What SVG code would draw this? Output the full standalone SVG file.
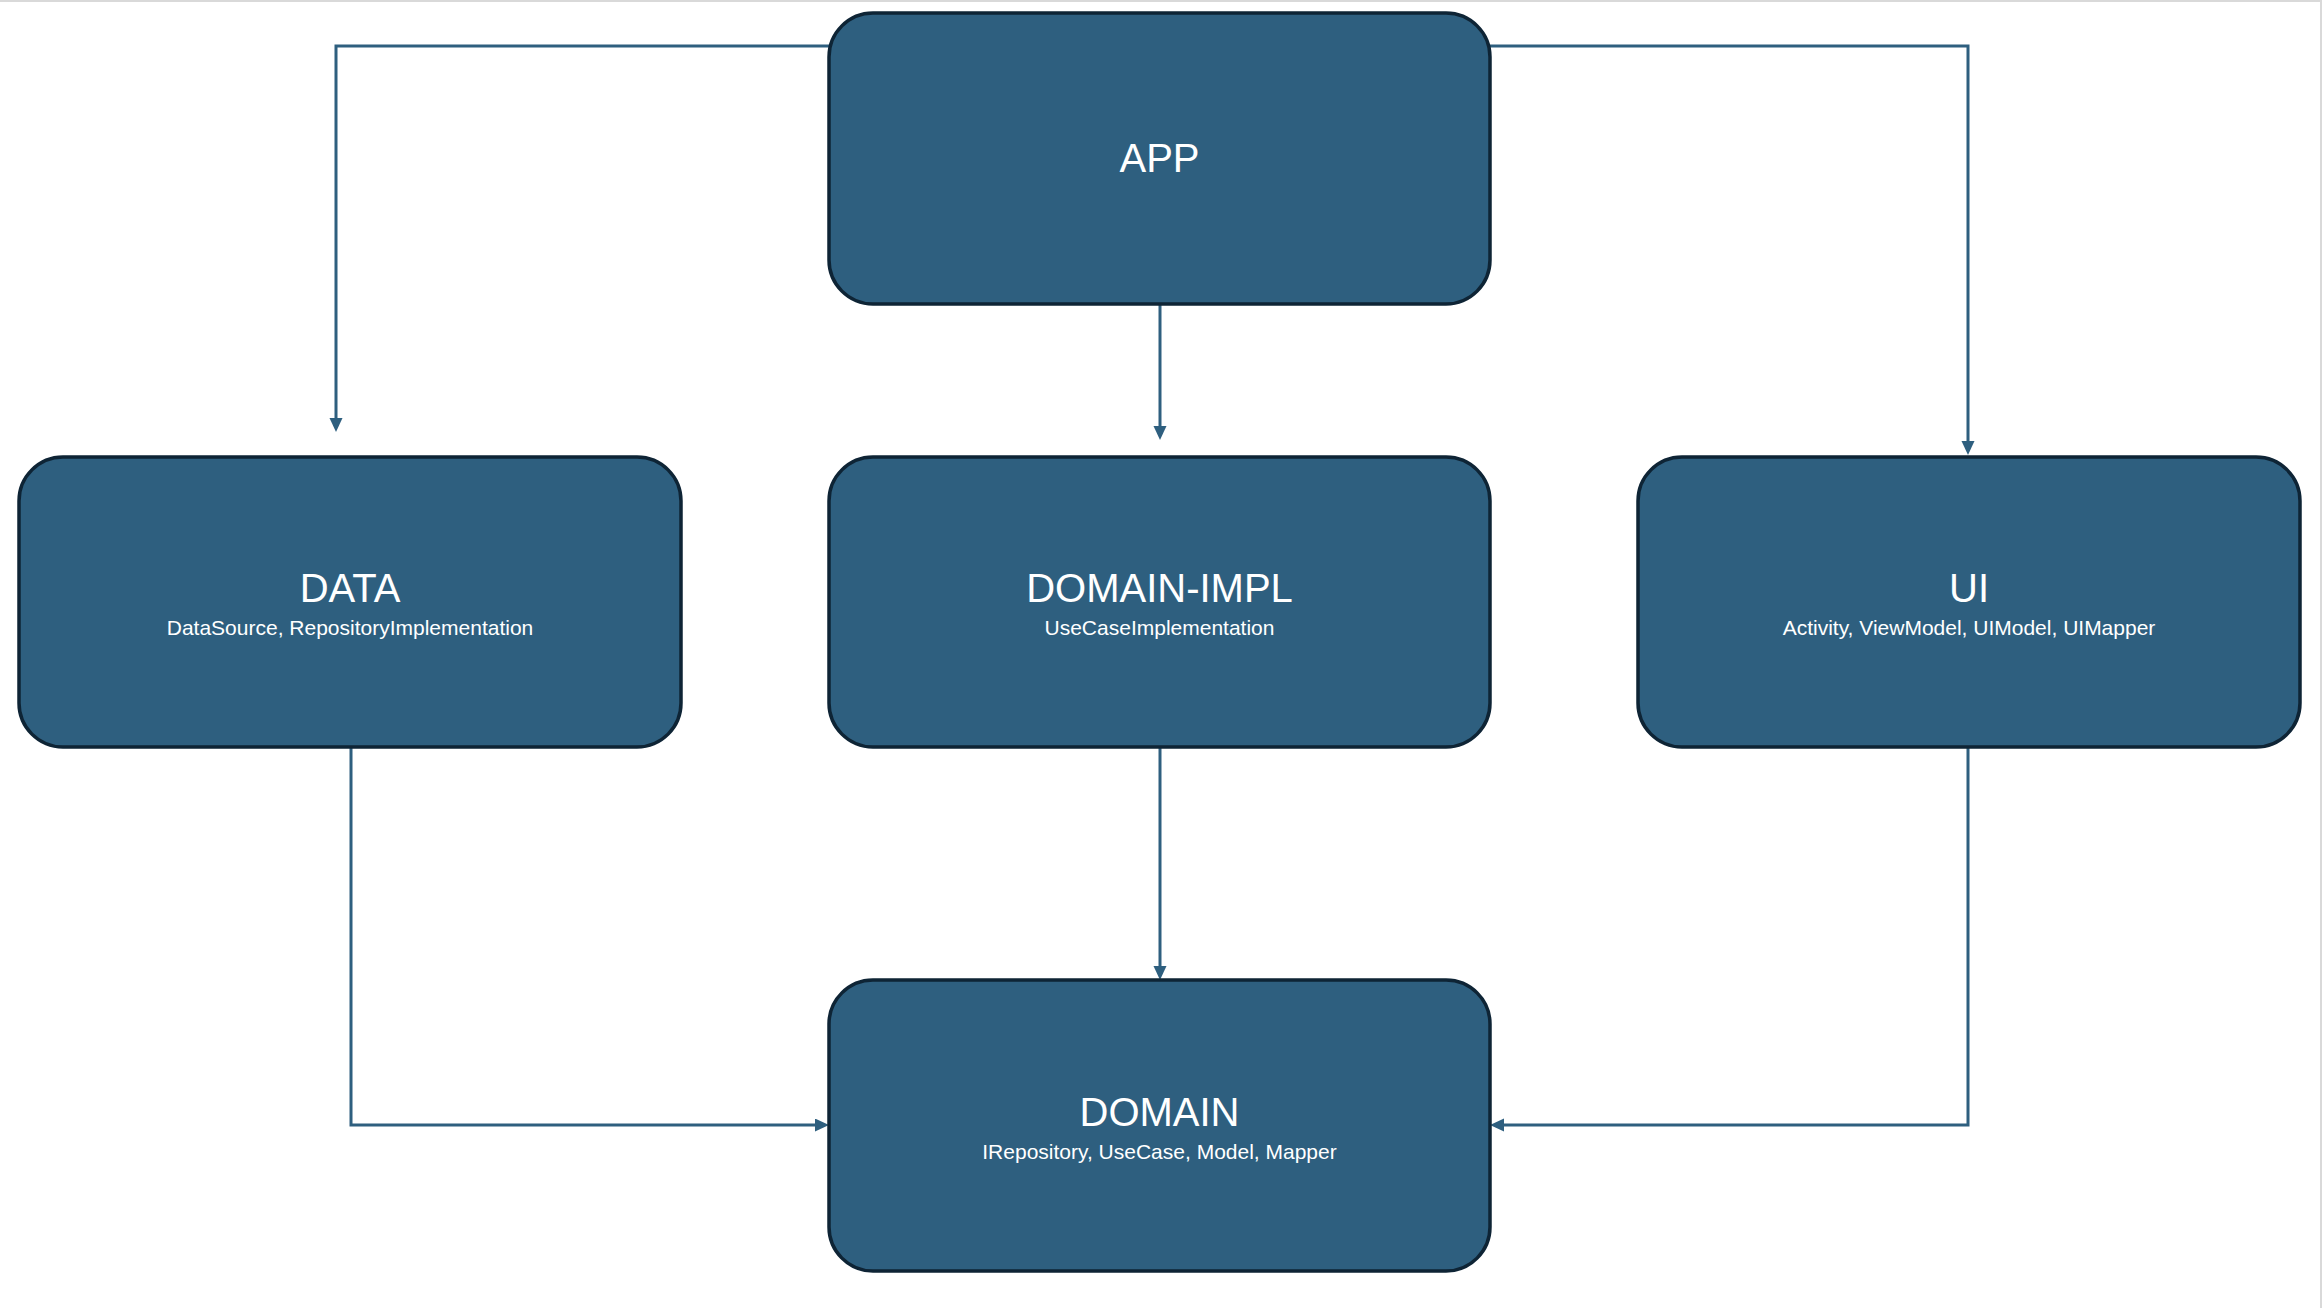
<svg xmlns="http://www.w3.org/2000/svg" width="2322" height="1308" viewBox="0 0 2322 1308">
<style>
.box{fill:#2E5F7F;stroke:#0E2435;stroke-width:3.5}
.t{font-family:"Liberation Sans",Arial,sans-serif;fill:#ffffff;text-anchor:middle}
.title{font-size:40px}
.sub{font-size:21px}
.c{fill:none;stroke:#2E5F7F;stroke-width:3}
.frame{stroke:#d9d9d9;stroke-width:2;fill:none}
</style>
<defs>
<marker id="arr" markerUnits="userSpaceOnUse" markerWidth="16" markerHeight="14" refX="4" refY="6.5" orient="auto">
<path d="M0,0 L14,6.5 L0,13 z" fill="#2E5F7F"/>
</marker>
</defs>
<rect x="0" y="0" width="2322" height="1308" fill="#ffffff"/>
<path class="frame" d="M0,1 H2321 V1308"/>
<g id="connectors">
<path class="c" d="M840,46 H336 V422" marker-end="url(#arr)"/>
<path class="c" d="M1480,46 H1968 V445" marker-end="url(#arr)"/>
<path class="c" d="M1160,304 V430" marker-end="url(#arr)"/>
<path class="c" d="M1160,746 V970" marker-end="url(#arr)"/>
<path class="c" d="M351,746 V1125 H819" marker-end="url(#arr)"/>
<path class="c" d="M1968,746 V1125 H1500" marker-end="url(#arr)"/>
</g>
<g id="app">
<rect class="box" x="829" y="13" width="661" height="291" rx="44" ry="44"/>
<text class="t title" x="1159.5" y="172">APP</text>
</g>
<g id="data">
<rect class="box" x="19" y="457" width="662" height="290" rx="44" ry="44"/>
<text class="t title" x="350" y="602">DATA</text>
<text class="t sub" x="350" y="635">DataSource, RepositoryImplementation</text>
</g>
<g id="domain-impl">
<rect class="box" x="829" y="457" width="661" height="290" rx="44" ry="44"/>
<text class="t title" x="1159.5" y="602">DOMAIN-IMPL</text>
<text class="t sub" x="1159.5" y="635">UseCaseImplementation</text>
</g>
<g id="ui">
<rect class="box" x="1638" y="457" width="662" height="290" rx="44" ry="44"/>
<text class="t title" x="1969" y="602">UI</text>
<text class="t sub" x="1969" y="635">Activity, ViewModel, UIModel, UIMapper</text>
</g>
<g id="domain">
<rect class="box" x="829" y="980" width="661" height="291" rx="44" ry="44"/>
<text class="t title" x="1159.5" y="1126">DOMAIN</text>
<text class="t sub" x="1159.5" y="1159">IRepository, UseCase, Model, Mapper</text>
</g>
</svg>
